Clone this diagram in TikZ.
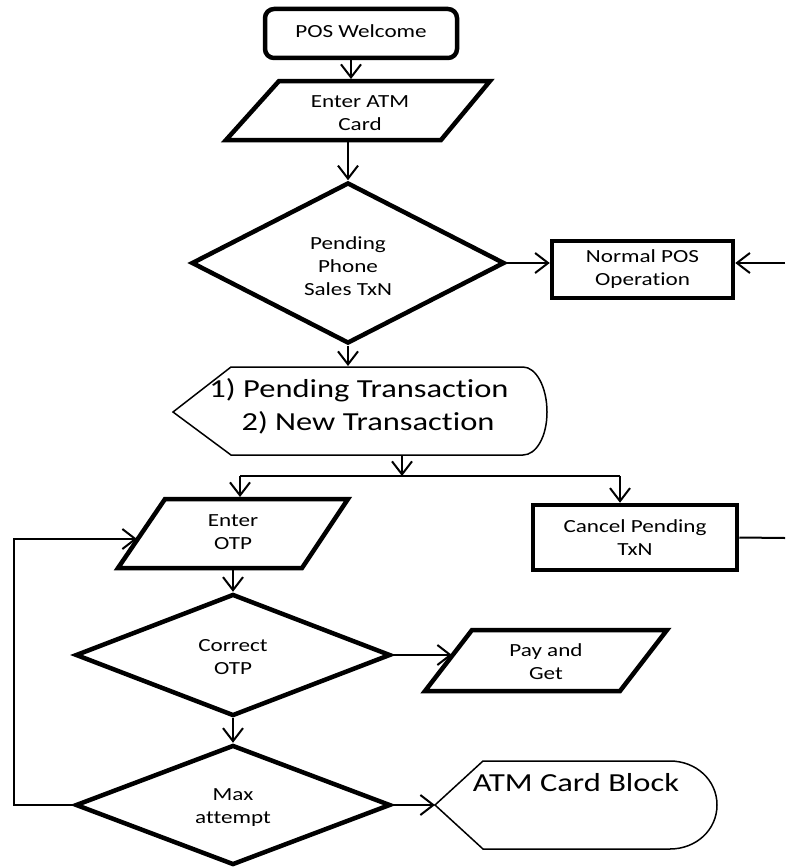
\documentclass[tikz,border=0pt]{standalone}
\usepackage{fontspec}
\setmainfont{Carlito}[FakeStretch=1.25, Ligatures=NoCommon]
\usetikzlibrary{arrows.meta,shapes.geometric,calc}

\begin{document}
\begin{tikzpicture}[x=1pt,y=-1pt,
  thickln/.style={line width=4.5pt, line join=miter},
  thinln/.style={line width=1.5pt, line join=miter},
  lbl/.style={font=\fontsize{18.5}{23}\selectfont, align=center, inner sep=0pt},
  biglbl/.style={font=\fontsize{26}{33}\selectfont, inner sep=0pt},
  conn/.style={line width=2pt, -{Straight Barb[length=13pt,width=20pt]}},
  plain/.style={line width=2pt},
  box/.style={draw, thickln, rectangle, inner sep=0pt, lbl},
  decision/.style={draw, thickln, diamond, aspect=2, inner sep=0pt},
]
\fill[white] (0,0) rectangle (785,867);
\useasboundingbox (0,0) rectangle (785,867);

% start
\node[box, rounded corners=9pt, minimum width=192pt, minimum height=49pt] (welcome) at (361,33.5) {};
\node[lbl] (welcomeText) at (361,31.5) {POS Welcome};

% card input
\draw[thickln] (279,81) -- (490,81) -- (441,140) -- (226,140) -- cycle;
\node[lbl] (atm) at (360,113.5) {Enter ATM\\Card};
\coordinate (atmIn) at (351,79);
\coordinate (atmOut) at (348,142);
\draw[conn] (welcome.south -| atmIn) -- (atmIn);

% pending sale check
\node[decision, minimum width=313pt, minimum height=161pt] (pend) at (348,263) {};
\node[lbl] (pendText) at (348,266) {Pending\\Phone\\Sales TxN};
\draw[conn] (atmOut) -- (pend.north);

% normal operation
\node[box, minimum width=181pt, minimum height=57pt] (normal) at (642.5,269.5) {Normal POS\\Operation};
\draw[conn] (pend.east) -- (pend.east -| normal.west);
\coordinate (normalFeed) at (785,263);
\draw[conn] (normalFeed) -- (normalFeed -| normal.east);

% transaction choice display
\draw[thinln] (173,412) -- (231,367) -- (523,367)
  .. controls (536,367) and (547,387) .. (547,412)
  .. controls (547,437) and (536,455) .. (523,455) -- (231,455) -- cycle;
\node[biglbl] (opt1) at (359,390) {1) Pending Transaction};
\node[biglbl] (opt2) at (368,423) {2) New Transaction};
\coordinate (choiceIn) at (348,366);
\coordinate (choiceOut) at (402,455);
\draw[conn] (pend.south) -- (choiceIn);

% branch
\coordinate (split) at (402,476);
\coordinate (splitL) at (240,476);
\coordinate (splitR) at (620,476);
\draw[conn] (choiceOut) -- (split);
\draw[plain] (splitL) -- (splitR);

% OTP input
\draw[thickln] (165,499) -- (348,499) -- (302,568) -- (118,568) -- cycle;
\node[lbl] (otp) at (233,532) {Enter\\OTP};
\coordinate (otpIn) at (240,497);
\coordinate (otpLoopIn) at (137,539);
\coordinate (otpOut) at (233,570);
\draw[conn] (splitL) -- (otpIn);

% cancel
\node[box, minimum width=204pt, minimum height=65pt] (cancel) at (635,537.5) {Cancel Pending\\TxN};
\draw[conn] (splitR) -- (splitR |- cancel.north);
\coordinate (cancelOut) at (785,538);
\draw[plain] (cancel.east) -- (cancelOut);

% OTP check
\node[decision, minimum width=315pt, minimum height=122pt] (correct) at (233,655) {};
\node[lbl] (correctText) at (233,657) {Correct\\OTP};
\draw[conn] (otpOut) -- (correct.north);

% payment
\draw[thickln] (472,630) -- (667,630) -- (620,691) -- (425,691) -- cycle;
\node[lbl] (pay) at (546,661.5) {Pay and\\Get};
\coordinate (payIn) at (452,655);
\draw[conn] (correct.east) -- (payIn);

% attempts check
\node[decision, minimum width=315pt, minimum height=120pt] (maxatt) at (233,805) {};
\node[lbl] (maxText) at (233,808) {Max\\attempt};
\draw[conn] (correct.south) -- (maxatt.north);

% card block display
\draw[thinln] (435,805) -- (483,761) -- (670,761)
  .. controls (696,761) and (717,780) .. (717,805)
  .. controls (717,830) and (696,849) .. (670,849) -- (483,849) -- cycle;
\node[biglbl] (block) at (576,783) {ATM Card Block};
\coordinate (blockIn) at (435,805);
\draw[conn] (maxatt.east) -- (blockIn);

% retry loop
\coordinate (loopB) at (14,805);
\coordinate (loopT) at (14,539);
\draw[conn] (maxatt.west) -- (loopB) -- (loopT) -- (otpLoopIn);
\end{tikzpicture}
\end{document}
